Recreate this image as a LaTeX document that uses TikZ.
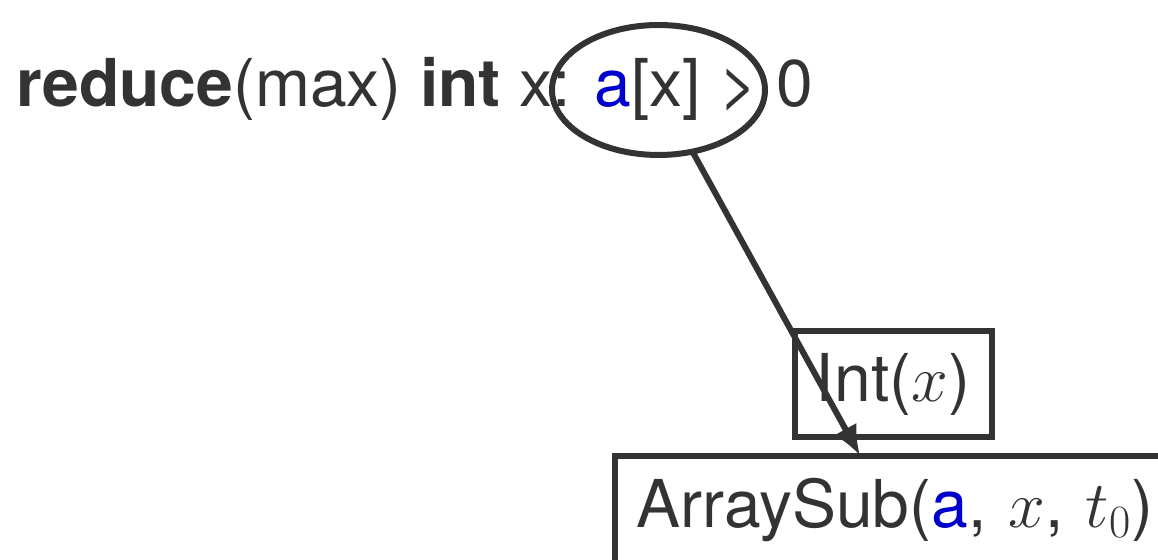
\RequirePackage{fix-cm}
\documentclass[tikz,border=0pt]{standalone}
\usepackage{fontspec}
\setmainfont{TeX Gyre Heros}
\usetikzlibrary{shapes.geometric,arrows.meta}
\definecolor{ink}{HTML}{333333}
\definecolor{varblue}{HTML}{0000CC}
\tikzset{
  bigtext/.style={text=ink, font=\fontsize{33}{40}\selectfont},
  boxnode/.style={bigtext, draw=ink, line width=3pt, inner sep=0pt, outer sep=0pt},
  condring/.style={ellipse, draw=ink, line width=3pt, inner sep=0pt, outer sep=0pt},
  link/.style={draw=ink, line width=3pt, -{Latex[length=15pt,width=13pt]}}
}
\begin{document}
\begin{tikzpicture}[x=0.5pt,y=-0.5pt]
\useasboundingbox (0,0) rectangle (1158,560);
\clip (0,0) rectangle (1158,560);
\node[bigtext, anchor=base west, inner sep=0pt] (expr) at (16,107)
  {\textbf{reduce}(max) \textbf{int} x: \textcolor{varblue}{a}[x] > 0};
\node[condring, minimum width=106.5pt, minimum height=65pt] (cond) at (658.5,90) {};
\node[boxnode, minimum width=98.5pt, minimum height=53pt, text height=24pt, text depth=6pt] (int) at (893,384) {Int($x$)};
\node[boxnode, anchor=north west, inner xsep=11pt, text height=35.75pt, text depth=80pt, text width=300pt, align=left] (sub) at (614.5,456.5)
  {ArraySub(\textcolor{varblue}{a}, $x$, $t_0$)};
\coordinate (tip) at ([xshift=122.75pt,yshift=0.5pt]sub.north west);
\draw[link] (cond) -- (tip);
\end{tikzpicture}
\end{document}
